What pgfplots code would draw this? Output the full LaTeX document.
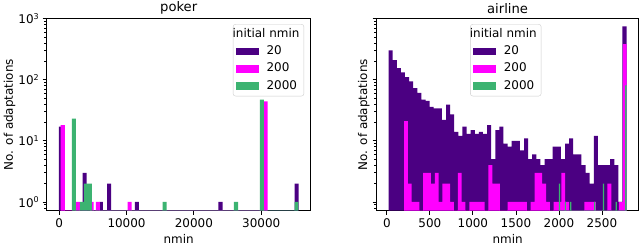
\documentclass[border=0pt]{standalone}
\usepackage{fontspec}
\setmainfont{DejaVu Sans}
\usepackage{pgfplots}
\pgfplotsset{compat=1.18}
\definecolor{c20}{RGB}{75,0,130}
\definecolor{c200}{RGB}{255,0,255}
\definecolor{c2000}{RGB}{60,179,113}
\newcommand{\fs}{\fontsize{12}{14}\selectfont}
\pgfplotsset{
  pA/.style={legend image code/.code={\fill[c20, sharp corners] (0bp,-3.9bp) rectangle (23bp,3.9bp);}},
  pB/.style={legend image code/.code={\fill[c200, sharp corners] (0bp,-3.9bp) rectangle (23bp,3.9bp);}},
  pC/.style={legend image code/.code={\fill[c2000, sharp corners] (0bp,-3.9bp) rectangle (23bp,3.9bp);}},
  every axis/.append style={
    tick align=outside, xtick pos=left, ytick pos=left,
    major tick length=4bp, minor tick length=2.3bp,
    major tick style={line width=0.8bp, black},
    minor tick style={line width=0.6bp, black},
    axis line style={line width=0.9bp},
    xticklabel style={/pgf/number format/1000 sep={}},
    tick label style={font=\fs},
    label style={font=\fs},
    title style={font=\fontsize{13.2}{15}\selectfont, inner sep=0pt, yshift=-1.8bp},
    legend cell align=left,
    legend style={draw=black!20, rounded corners=2.5bp, fill=white,
      font=\fs, row sep=2bp, inner sep=2.5bp,
      /tikz/every odd column/.append style={column sep=6bp},
      nodes={inner sep=2bp, text height=8.8bp, text depth=2.4bp}},
  }
}
\begin{document}
\begin{tikzpicture}[font=\fs]
\useasboundingbox (0,0) rectangle (640bp,246bp);
% ---------------- poker ----------------
\begin{axis}[ymode=log, scale only axis, height=192.2bp, width=264bp,
  at={(46.7bp,35.3bp)}, anchor=south west,
  ymin=0.72, ymax=1000, log origin y=infty,
  ytick={1,10,100,1000},
  minor ytick={0.8,0.9,2,3,4,5,6,7,8,9,20,30,40,50,60,70,80,90,200,300,400,500,600,700,800,900},
  scaled x ticks=false, /pgf/number format/assume math mode=true,
  xlabel={nmin}, ylabel={No. of adaptations},
  ylabel style={at={(-0.118,0.5)}, anchor=south, rotate=0, inner sep=0pt},
  title={poker}, xmin=-1850, xmax=37340, xtick={0,10000,20000,30000},
  yticklabels={10\textsuperscript{0},10\textsuperscript{1},10\textsuperscript{2},10\textsuperscript{3}},
  legend style={at={(0.975,0.971)}, anchor=north east}]
\addlegendimage{empty legend}
\addlegendentry{\hspace{-34bp}initial nmin}
\addplot[ybar interval, fill=c20, draw=none, pA] coordinates {
(-30,17) (570,0.01) (3470,3) (4070,0.01) (6000,1) (6500,0.01) (7130,2) (7700,0.01)
(11250,1) (11850,0.01) (23650,1) (24250,0.01) (34950,2) (35550,1)};
\addlegendentry{20}
\addplot[ybar interval, fill=c200, draw=none, pB] coordinates {
(200,18) (830,0.01) (2480,1) (3070,0.01) (4600,1) (5100,0.01) (5450,1) (6050,0.01)
(10150,1) (10750,0.01) (30400,44) (30950,1)};
\addlegendentry{200}
\addplot[ybar interval, fill=c2000, draw=none, pC] coordinates {
(1890,23) (2480,0.01) (3070,1) (3660,2) (4250,2) (4840,0.01) (15350,1) (15950,0.01)
(25950,1) (26550,0.01) (29800,47) (30400,0.01) (34950,1) (35500,1)};
\addlegendentry{2000}
\end{axis}
% ---------------- airline ----------------
\begin{axis}[ymode=log, scale only axis, height=192.2bp, width=261.8bp,
  at={(376.7bp,35.3bp)}, anchor=south west,
  ymin=0.72, ymax=1000, log origin y=infty,
  ytick={1,10,100,1000},
  minor ytick={0.8,0.9,2,3,4,5,6,7,8,9,20,30,40,50,60,70,80,90,200,300,400,500,600,700,800,900},
  scaled x ticks=false, /pgf/number format/assume math mode=true,
  xlabel={nmin}, ylabel={No. of adaptations},
  ylabel style={at={(-0.026,0.5)}, anchor=south, rotate=0, inner sep=0pt},
  title={airline}, xmin=-118, xmax=2925, xtick={0,500,1000,1500,2000,2500},
  yticklabels={},
  legend style={at={(0.493,0.971)}, anchor=north}]
\addlegendimage{empty legend}
\addlegendentry{\hspace{-34bp}initial nmin}
\addplot[ybar interval, fill=c20, draw=none, pA] coordinates {
(20.0,301) (67.7,208) (115.4,154) (163.1,131) (210.8,110) (258.5,94) (306.2,73) (353.9,61)
(401.6,47) (449.3,45) (497.0,36) (544.7,34) (592.4,34) (640.1,22) (687.8,39) (735.5,27)
(783.2,14) (830.9,12) (878.6,17) (926.3,13) (974.0,15) (1021.7,13) (1069.4,14) (1117.1,13)
(1164.8,18) (1212.5,5) (1260.2,15) (1307.9,17) (1355.6,9) (1403.3,8) (1451.0,10) (1498.7,10)
(1546.4,7) (1594.1,11) (1641.8,5) (1689.5,6) (1737.2,5) (1784.9,4) (1832.6,5) (1880.3,5)
(1928.0,8) (1975.7,8) (2023.4,5) (2071.1,9) (2118.8,11) (2166.5,6) (2214.2,6) (2261.9,4)
(2309.6,3) (2357.3,2) (2405.0,12) (2452.7,4) (2500.4,4) (2548.1,4) (2595.8,5) (2643.5,4)
(2691.2,1) (2738.9,745) (2786.6,1)};
\addlegendentry{20}
\addplot[ybar interval, fill=c200, draw=none, pB] coordinates {
(200.0,21) (244.6,2) (289.2,1) (333.8,1) (378.4,0.01) (423.0,3) (467.6,3) (512.2,2)
(556.8,3) (601.4,1) (646.0,2) (690.6,2) (735.2,1) (779.8,0.01) (824.4,3) (869.0,1)
(913.6,0.01) (958.2,1) (1002.8,1) (1047.4,1) (1092.0,1) (1136.6,0.01) (1181.2,4) (1225.8,2)
(1270.4,2) (1315.0,0.01) (1359.6,0.01) (1404.2,1) (1448.8,1) (1493.4,1) (1538.0,1) (1582.6,1)
(1627.2,0.01) (1671.8,1) (1716.4,3) (1761.0,3) (1805.6,2) (1850.2,1) (1894.8,0.01) (1939.4,1)
(1984.0,1) (2028.6,3) (2073.2,1) (2117.8,0.01) (2162.4,0.01) (2207.0,0.01) (2251.6,0.01) (2296.2,1)
(2340.8,1) (2385.4,1) (2430.0,0.01) (2474.6,0.01) (2519.2,0.01) (2563.8,2) (2608.4,0.01) (2653.0,0.01)
(2697.6,1) (2742.2,381) (2786.8,1)};
\addlegendentry{200}
\addplot[ybar interval, fill=c2000, draw=none, pC] coordinates {
(2000,2) (2014,0.01) (2068,1) (2082,0.01) (2130,1) (2144,0.01) (2410,1) (2424,0.01)
(2512,2) (2526,0.01) (2660,1) (2674,0.01) (2770,81) (2787,1)};
\addlegendentry{2000}
\end{axis}
\end{tikzpicture}
\end{document}
